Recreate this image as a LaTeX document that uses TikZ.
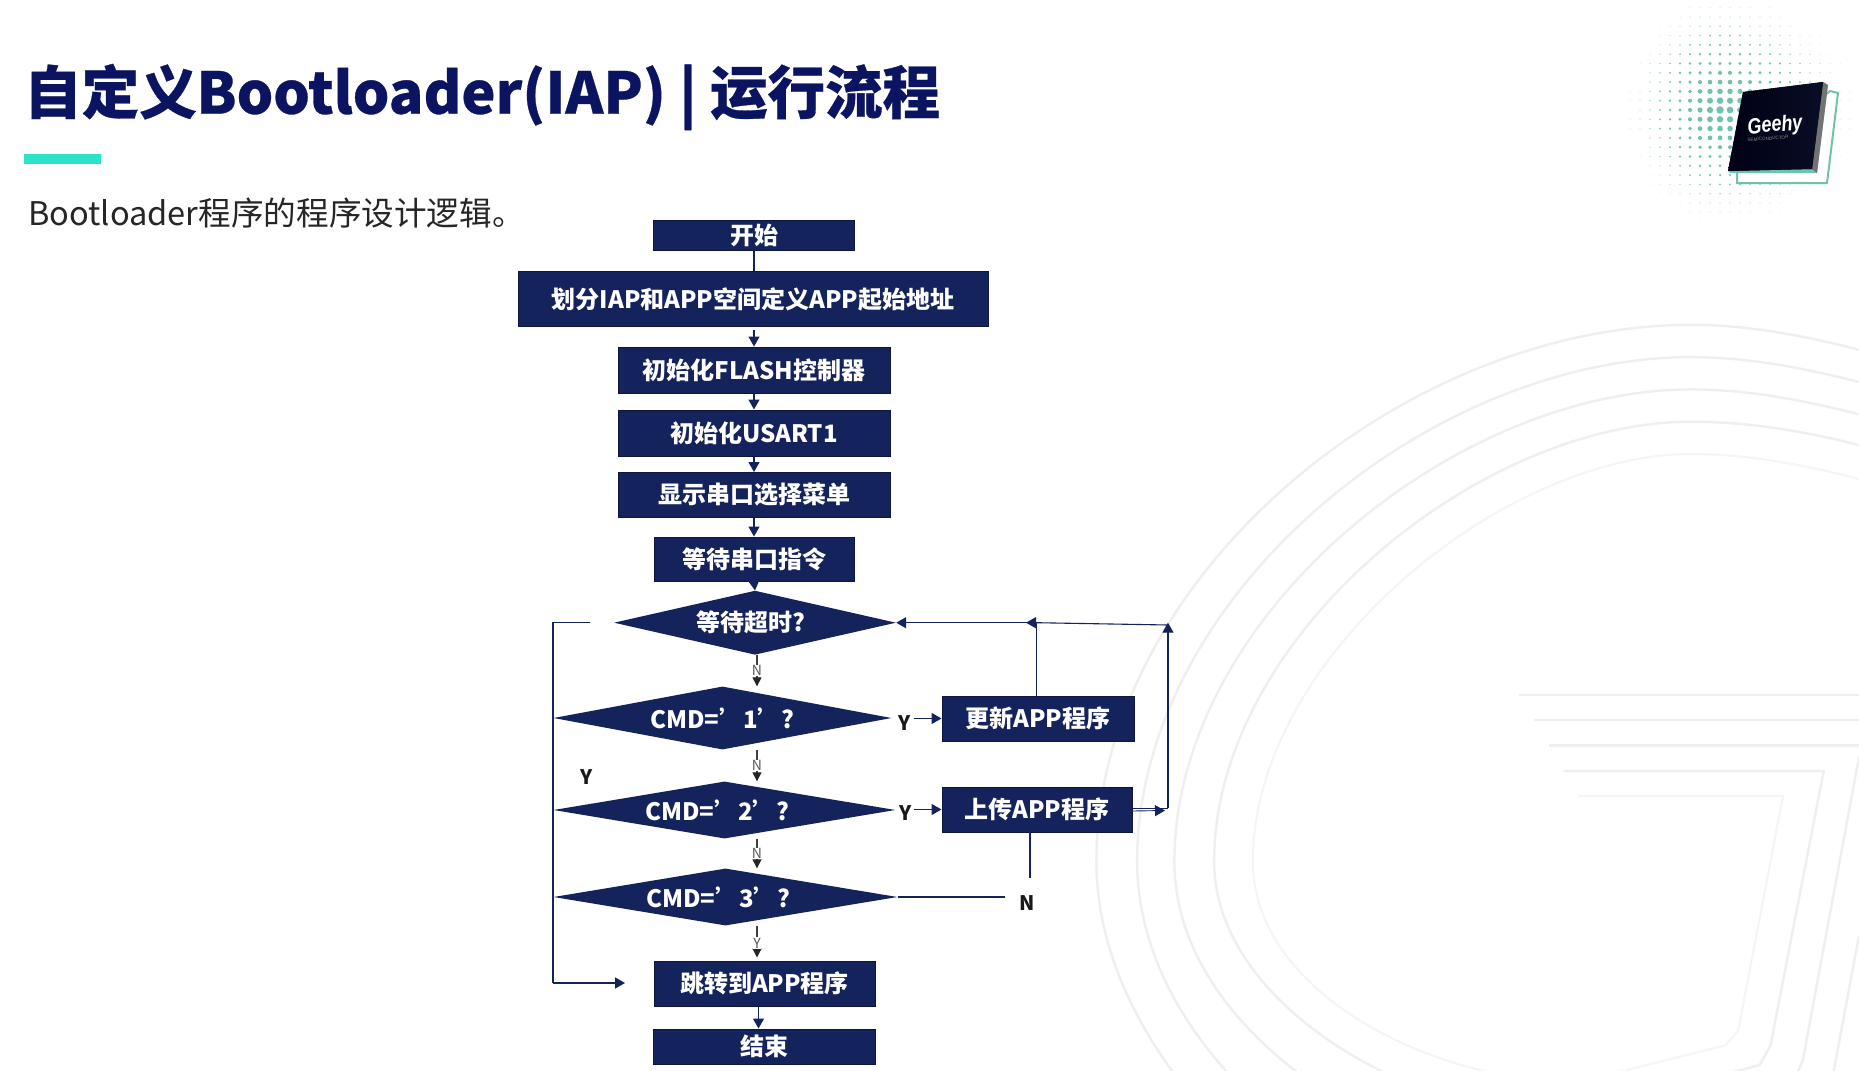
\documentclass[tikz,border=0pt]{standalone}
\usepackage{graphicx}
\usepackage{fontspec}
\setmainfont{Noto Sans CJK SC}
\newfontfamily\logofont{Liberation Sans}
\usetikzlibrary{shapes.geometric,arrows.meta,calc}
\definecolor{navy}{HTML}{15235C}
\definecolor{edgeink}{HTML}{0E1640}
\definecolor{titleink}{HTML}{0B1460}
\definecolor{mint}{HTML}{2BE3C6}
\definecolor{dotc}{HTML}{6FC2AD}
\definecolor{pale}{HTML}{EFEFEF}
\definecolor{paler}{HTML}{F5F5F5}
\tikzset{
  stepbox/.style={rectangle,draw=edgeink,line width=1pt,fill=navy,text=white,inner sep=0pt,font=\fontsize{24}{28}\selectfont\bfseries},
  deci/.style={diamond,aspect=5.3,fill=navy,text=white,inner sep=0pt,font=\fontsize{24}{28}\selectfont\bfseries},
  conn/.style={draw=navy,line width=1.4pt},
  arr/.style={conn,-{Triangle[length=10pt,width=11pt]}},
  arrk/.style={draw=black!75,line width=1.2pt,-{Triangle[length=9pt,width=9pt,fill=black!85,color=black!85]}},
  tiny/.style={fill=white,inner sep=0.5pt,text=black!65,font=\fontsize{14}{16}\selectfont},
  ylab/.style={inner sep=0pt,text=black!90,font=\fontsize{20}{24}\selectfont\bfseries},
  bgline/.style={draw=pale,line width=2.4pt,line join=round},
  bgthin/.style={draw=paler,line width=2pt,line join=round},
}
\begin{document}
\begin{tikzpicture}[x=1pt,y=-1pt]
\useasboundingbox (0,0) rectangle (1859,1070);
\fill[white] (0,0) rectangle (1859,1070);
% background contours
\begin{scope}
\clip (0,0) rectangle (1859,1070);
\begin{scope}[shift={(1080,300)},x=0.4968pt,y=-0.4968pt]
\draw[bgline] (1568,100) .. controls (1450,70) and (1340,50) .. (1230,50) .. controls (650,50) and (33,560) .. (33,1130) .. controls (33,1300) and (110,1460) .. (215,1590);
\draw[bgline] (1568,165) .. controls (1450,135) and (1340,115) .. (1230,115) .. controls (700,115) and (115,600) .. (115,1130) .. controls (115,1300) and (200,1460) .. (330,1590);
\draw[bgline] (1568,230) .. controls (1450,200) and (1340,180) .. (1230,180) .. controls (750,180) and (190,640) .. (190,1130) .. controls (190,1380) and (420,1590) .. (700,1700);
\draw[bgline] (1568,292) .. controls (1450,262) and (1340,245) .. (1230,245) .. controls (800,245) and (270,680) .. (270,1130) .. controls (270,1400) and (620,1620) .. (950,1650) -- (1368,1540) -- (1390,1500) -- (1497,948) -- (973,948);
\draw[bgthin] (1568,360) .. controls (1450,330) and (1340,310) .. (1230,310) .. controls (850,310) and (348,720) .. (348,1130) .. controls (348,1400) and (720,1575) .. (1000,1575) -- (1300,1500) -- (1325,1470) -- (1415,998) -- (1003,998);
\draw[bgline] (884,795) -- (1568,795);
\draw[bgline] (913,846) -- (1568,846);
\draw[bgline] (943,897) -- (1568,897);
\draw[bgline] (1568,920) -- (1455,1530) -- (1430,1590);
\draw[bgline] (1568,1280) -- (1510,1590);
\end{scope}
\end{scope}
% halftone dots of the logo
\foreach \i in {-9,...,14}{
  \foreach \j in {-12,...,13}{
    \pgfmathsetmacro{\dd}{sqrt((\i*10/(\i<0?100:145))^2+(\j*9.3/122)^2)}
    \pgfmathsetmacro{\rr}{\dd<1?3.3*(1-\dd)*(1-\dd)+0.45:0}
    \pgfmathsetmacro{\pp}{\dd<1?min(100,18+190*(1-\dd)):0}
    \ifdim\rr pt>0.1pt
      \fill[dotc!\pp!white] (1720+\i*10,110+\j*9.3) circle[radius=\rr];
    \fi
  }
}
% chip
\fill[white,draw=dotc,line width=2pt] (1830,91) -- (1838,93) -- (1827,183) -- (1737,183) -- (1737,170) -- cycle;
\fill[dotc] (1823,82) -- (1828,85) -- (1817,173) -- (1730,173) -- (1728,171) -- cycle;
\fill[black!55] (1828,85) -- (1817,173) -- (1812,169) -- (1823,82) -- cycle;
\fill[left color=black!92!blue,right color=black!60!navy] (1743,92) -- (1823,82) -- (1812,169) -- (1728,171) -- cycle;
\node[text=white,inner sep=0pt,rotate=5,font=\logofont\fontsize{22}{24}\selectfont\bfseries\itshape] (geehy) at (1775,126) {\scalebox{0.82}[1]{Geehy}};
\node[text=black!45,inner sep=0pt,rotate=4,font=\logofont\fontsize{4.6}{5}\selectfont] (semi) at (1768,138.5) {SEMICONDUCTOR};
% heading
\node[anchor=west,inner sep=0pt,text=titleink,font=\fontsize{57.5}{66}\selectfont\bfseries\addfontfeatures{FakeBold=0.5}] (title) at (24,97) {自定义Bootloader(IAP) | 运行流程};
\fill[mint] (24,154) rectangle (101,163.5);
\node[anchor=west,inner sep=0pt,text=black!85,font=\fontsize{32.6}{38}\selectfont] (sub) at (28,213) {Bootloader程序的程序设计逻辑。};
% nodes
\node[stepbox,minimum width=201pt,minimum height=30pt] (start) at (754,235) {开始};
\node[stepbox,minimum width=470pt,minimum height=55pt] (split) at (753,299) {划分IAP和APP空间定义APP起始地址};
\node[stepbox,minimum width=272pt,minimum height=46pt] (flash) at (754,370) {初始化FLASH控制器};
\node[stepbox,minimum width=272pt,minimum height=46pt] (usart) at (754,433) {初始化USART1};
\node[stepbox,minimum width=272pt,minimum height=45pt] (menu) at (754,495) {显示串口选择菜单};
\node[stepbox,minimum width=200pt,minimum height=44pt] (wait) at (754,559) {等待串口指令};
\node[deci,minimum width=282pt,minimum height=64pt] (d0) at (755,622.7) {\hspace*{-8pt}等待超时?};
\node[deci,minimum width=338pt,minimum height=63pt] (d1) at (722.5,718) {CMD=’1’?};
\node[deci,minimum width=342pt,minimum height=57pt] (d2) at (724.5,810) {\hspace*{-14pt}CMD=’2’?};
\node[deci,minimum width=344pt,minimum height=57pt] (d3) at (725.5,897) {\hspace*{-14pt}CMD=’3’?};
\node[stepbox,minimum width=192pt,minimum height=45pt] (upd) at (1038,718.5) {更新APP程序};
\node[stepbox,minimum width=190pt,minimum height=45pt] (upl) at (1037,809.5) {上传APP程序};
\node[stepbox,minimum width=221pt,minimum height=45pt] (jump) at (764.5,983.5) {跳转到APP程序};
\node[stepbox,minimum width=222pt,minimum height=35pt] (fin) at (764,1046.5) {结束};
% helper coordinates
\coordinate (cm) at (754,0);
\coordinate (cn) at (757,0);
\coordinate (cj) at (758.5,0);
\coordinate (lx) at (553,0);
\coordinate (stub) at (590,622.7);
\coordinate (ljump) at (625,983);
\coordinate (yx) at (914,0);
\coordinate (fb1) at (1036.5,622.7);
\coordinate (fb1tip) at (1026,622.7);
\coordinate (fb2) at (1168,625);
\coordinate (fb2tip) at (1168,622.7);
\coordinate (fb3) at (1168,808);
\coordinate (fb3tip) at (1165,810.5);
\coordinate (nend1) at (1030,878);
\coordinate (nstart) at (1030,832);
\coordinate (nend2) at (1005,897);
% main column
\draw[conn] (cm |- start.south) -- (cm |- split.north);
\draw[arr,shorten <=3pt] (cm |- split.south) -- (cm |- flash.north);
\draw[arr] (cm |- flash.south) -- (cm |- usart.north);
\draw[arr] (cm |- usart.south) -- (cm |- menu.north);
\draw[arr] (cm |- menu.south) -- (cm |- wait.north);
\draw[arr] (cm |- wait.south) -- (d0.north);
\draw[arrk] (cn |- d0.south) -- node[tiny]{N} (cn |- d1.north);
\draw[arrk] (cn |- d1.south) -- node[tiny]{N} (cn |- d2.north);
\draw[arrk] (cn |- d2.south) -- node[tiny]{N} (cn |- d3.north);
\draw[arrk,shorten >=3pt] (cn |- d3.south) -- node[tiny]{Y} (cn |- jump.north);
\draw[arr] (cj |- jump.south) -- (cj |- fin.north);
% left bus
\draw[conn] (stub) -- (lx |- stub) -- (lx |- ljump);
\draw[arr] (lx |- ljump) -- (ljump);
\draw[conn] (d1.west) -- (lx |- d1.west);
\draw[conn] (d2.west) -- (lx |- d2.west);
\draw[conn] (d3.west) -- (lx |- d3.west);
% Y branches
\draw[arr] (yx |- upd.west) -- (upd.west);
\draw[arr] (yx |- upl.west) -- (upl.west);
% feedback
\draw[conn] (fb1 |- upd.north) -- (fb1);
\draw[arr] (fb1) -- (d0.east);
\draw[arr] (fb1) -- (fb1tip);
\draw[conn,line width=1.1pt] (fb1) -- (fb2);
\draw[arr] (fb3) -- (fb2tip);
\draw[conn,line width=0.9pt] ([yshift=1.5pt]upl.east) -- (fb3);
\draw[arr,line width=0.9pt] ([yshift=-1.5pt]upl.east) -- (fb3tip);
% N branch
\draw[conn,line width=1.1pt] (nstart) -- (nend1);
\draw[conn,line width=1.1pt] (d3.east) -- (nend2);
% labels
\node[ylab] (ly1) at (905,723) {Y};
\node[ylab] (ly2) at (906,813) {Y};
\node[ylab] (ly3) at (587,777) {Y};
\node[ylab] (ln) at (1027,903) {N};
\end{tikzpicture}
\end{document}
